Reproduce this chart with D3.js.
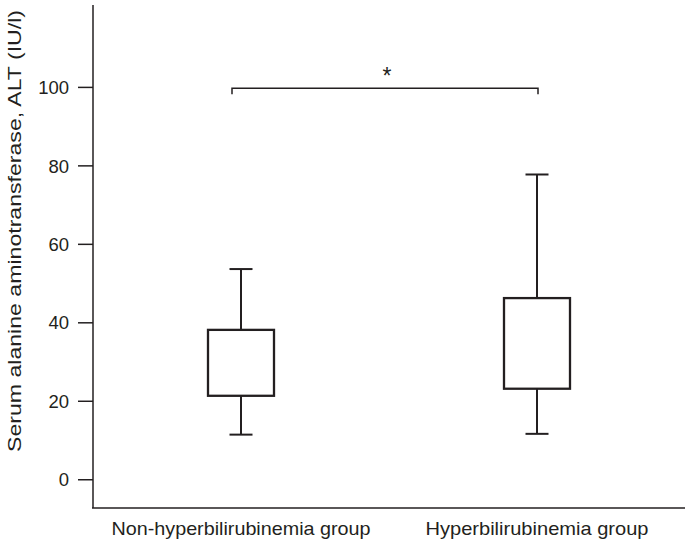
<!DOCTYPE html>
<html>
<head>
<meta charset="utf-8">
<script src="https://cdn.jsdelivr.net/npm/d3@7"></script>
<style>
  body { margin: 0; background: #fff; }
  svg text { font-family: "Liberation Sans", Arial, sans-serif; fill: #231f20; }
</style>
</head>
<body>
<svg width="685" height="541"></svg>
<script>
// group names and box summary values (IU/l)
var groups = ["Non-hyperbilirubinemia group", "Hyperbilirubinemia group"];
var whiskerLow = [11.5, 11.7];
var q1 = [21.4, 23.2];
var q3 = [38.2, 46.3];
var whiskerHigh = [53.7, 77.8];
var yTicks = [0, 20, 40, 60, 80, 100];
var bracketValue = 99.8;
var bracketLabel = "*";

var svg = d3.select("svg"),
  ink = "#231f20";

var x = d3.scalePoint()
  .domain(groups)
  .range([93, 685])
  .padding(0.5);

var y = d3.scaleLinear()
  .domain([-7.2, 121])
  .range([508, 5]);

var boxW = 66, capW = 23;
var labelLen = [259, 223];

// y axis
svg.append("line")
  .attr("x1", 93).attr("x2", 93)
  .attr("y1", y.range()[1]).attr("y2", y.range()[0])
  .attr("stroke", ink).attr("stroke-width", 1.5);

var yt = svg.selectAll(".ytick")
  .data(yTicks)
  .enter().append("g")
  .attr("class", "ytick")
  .attr("transform", function (d) { return "translate(0," + y(d) + ")"; });

yt.append("line")
  .attr("x1", 78).attr("x2", 93)
  .attr("stroke", ink).attr("stroke-width", 1.5);

yt.append("text")
  .attr("x", 69).attr("dy", "0.36em")
  .attr("text-anchor", "end")
  .attr("font-size", 18.5)
  .text(function (d) { return d; });

// x axis
svg.append("line")
  .attr("x1", 92).attr("x2", 685)
  .attr("y1", 508).attr("y2", 508)
  .attr("stroke", ink).attr("stroke-width", 1.5);

svg.selectAll(".xlabel")
  .data(groups)
  .enter().append("text")
  .attr("class", "xlabel")
  .attr("x", function (d) { return x(d); })
  .attr("y", 535)
  .attr("text-anchor", "middle")
  .attr("font-size", 18.5)
  .attr("textLength", function (d, i) { return labelLen[i]; })
  .attr("lengthAdjust", "spacingAndGlyphs")
  .text(function (d) { return d; });

// y title
svg.append("text")
  .attr("transform", "translate(21,231) rotate(-90)")
  .attr("text-anchor", "middle")
  .attr("font-size", 18)
  .attr("textLength", 442)
  .attr("lengthAdjust", "spacingAndGlyphs")
  .text("Serum alanine aminotransferase, ALT (IU/l)");

// boxes
var box = svg.selectAll(".box")
  .data(groups)
  .enter().append("g")
  .attr("class", "box");

box.append("line")
  .attr("x1", function (d) { return x(d); })
  .attr("x2", function (d) { return x(d); })
  .attr("y1", function (d, i) { return y(whiskerHigh[i]); })
  .attr("y2", function (d, i) { return y(whiskerLow[i]); })
  .attr("stroke", ink).attr("stroke-width", 2);

box.append("rect")
  .attr("x", function (d) { return x(d) - boxW / 2; })
  .attr("width", boxW)
  .attr("y", function (d, i) { return y(q3[i]); })
  .attr("height", function (d, i) { return y(q1[i]) - y(q3[i]); })
  .attr("fill", "#fff")
  .attr("stroke", ink).attr("stroke-width", 2.3);

[whiskerLow, whiskerHigh].forEach(function (arr) {
  box.append("line")
    .attr("x1", function (d) { return x(d) - capW / 2; })
    .attr("x2", function (d) { return x(d) + capW / 2; })
    .attr("y1", function (d, i) { return y(arr[i]); })
    .attr("y2", function (d, i) { return y(arr[i]); })
    .attr("stroke", ink).attr("stroke-width", 2);
});

// significance bracket
var bx1 = x(groups[0]) - 9, bx2 = x(groups[1]) + 1, by = y(bracketValue);
svg.append("path")
  .attr("d", "M" + bx1 + "," + (by + 6) + "V" + by + "H" + bx2 + "V" + (by + 6))
  .attr("fill", "none")
  .attr("stroke", ink).attr("stroke-width", 1.5);

svg.append("text")
  .attr("x", (bx1 + bx2) / 2 + 2)
  .attr("y", by - 4)
  .attr("text-anchor", "middle")
  .attr("font-size", 23)
  .text(bracketLabel);
</script>
</body>
</html>
